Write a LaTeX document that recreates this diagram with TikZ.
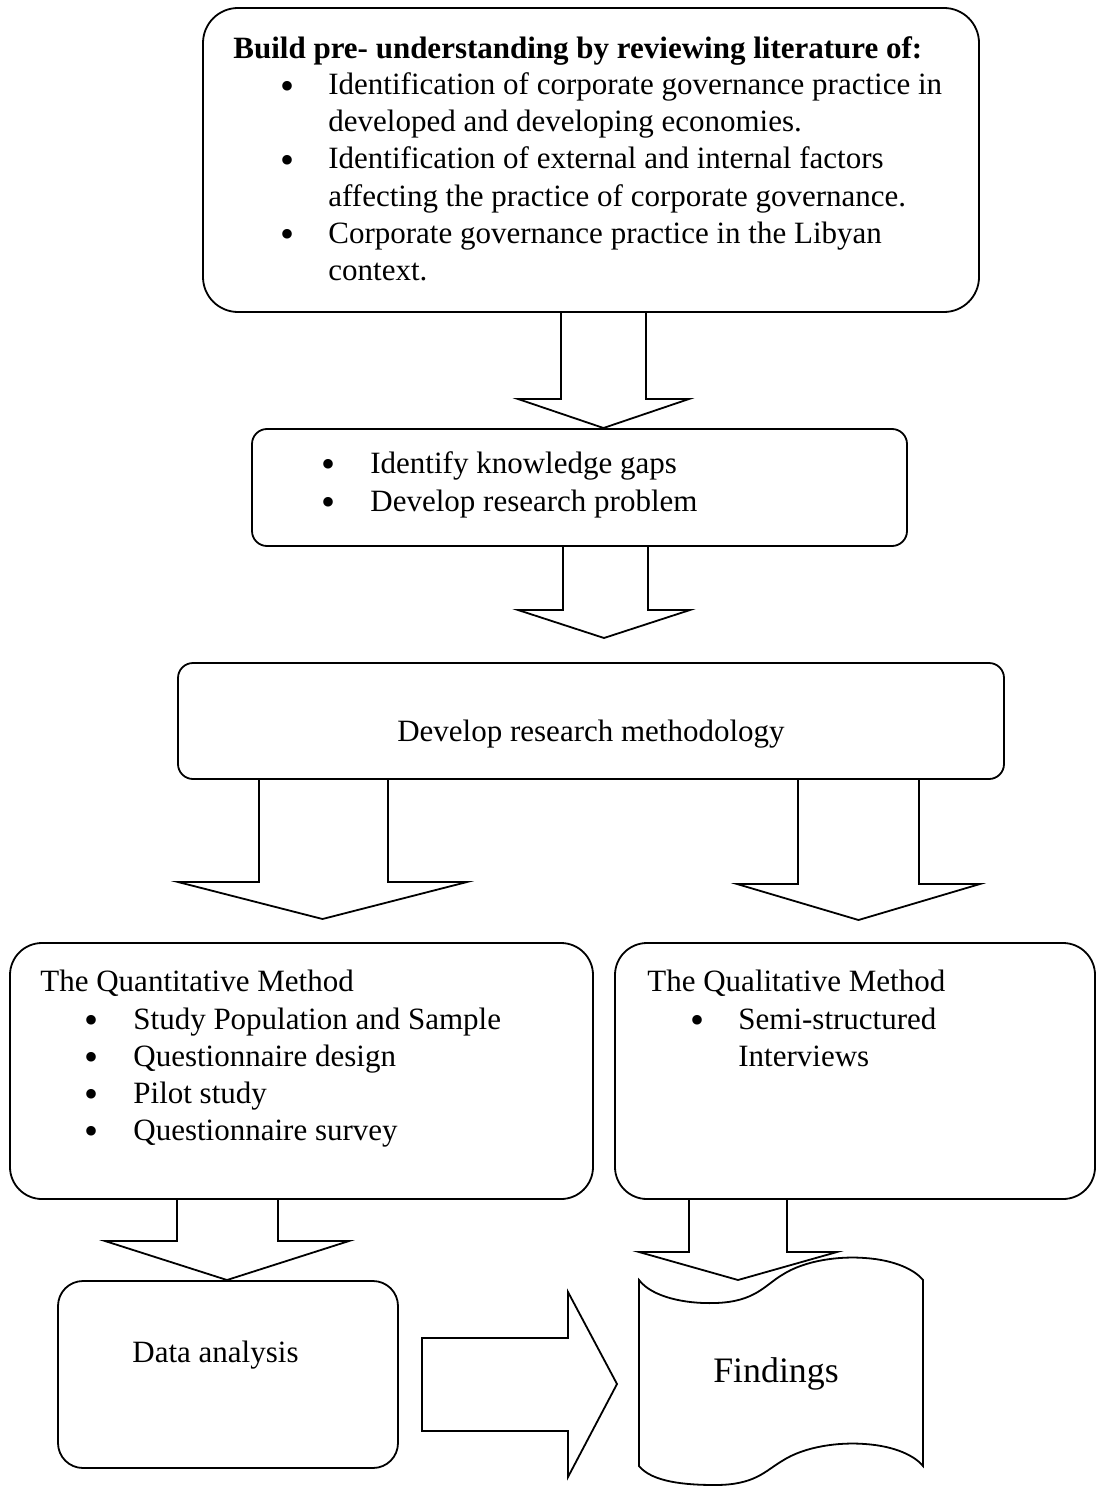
\documentclass[tikz,border=0pt]{standalone}
\usepackage{fontspec}
\setmainfont{Liberation Serif}
\newcommand\blockdown[7]{% #1 source node, #2 shaft left, #3 shaft right, #4 shoulder y, #5 head left, #6 head right, #7 tip y
  \draw[barrow] (#2,0 |- #1.south) -- (#2,#4) -- (#5,#4) -- ({(#5+#6)/2},#7) -- (#6,#4) -- (#3,#4) -- (#3,0 |- #1.south);}
\begin{document}
\begin{tikzpicture}[x=0.5pt,y=-0.5pt,
  box/.style={draw, line width=0.9pt, inner sep=0pt, outer sep=0pt},
  txt/.style={anchor=base west, inner sep=0pt, font=\fontsize{15.5pt}{18.5pt}\selectfont},
  ctxt/.style={anchor=base, inner sep=0pt, font=\fontsize{15.5pt}{18.5pt}\selectfont},
  bul/.style={anchor=base, inner sep=0pt, yshift=-2.3pt, font=\fontsize{20pt}{20pt}\selectfont},
  barrow/.style={draw, line width=0.9pt, line join=miter}]
\useasboundingbox (0,0) rectangle (1097,1487);

% boxes
\node[box, rounded corners=17.5pt, minimum width=388pt, minimum height=152pt] (b1) at (591,160) {};
\node[box, rounded corners=7.5pt, minimum width=327.5pt, minimum height=58.5pt] (b2) at (579.5,487.5) {};
\node[box, rounded corners=7.5pt, minimum width=413pt, minimum height=58pt] (b3) at (591,721) {};
\node[box, rounded corners=16pt, minimum width=291.5pt, minimum height=128pt] (b4) at (301.5,1071) {};
\node[box, rounded corners=16pt, minimum width=240pt, minimum height=128pt] (b5) at (855,1071) {};
\node[box, rounded corners=12.5pt, minimum width=170pt, minimum height=93.5pt] (b6) at (228,1374.5) {};

% findings (punched tape)
\draw[barrow] (639,1280) .. controls (652,1297) and (685,1304) .. (715,1303)
  .. controls (755,1302) and (765,1285) .. (782,1275)
  .. controls (805,1260) and (840,1256) .. (865,1258)
  .. controls (895,1260) and (915,1270) .. (923,1280)
  -- (923,1466)
  .. controls (915,1456) and (895,1446) .. (865,1444)
  .. controls (840,1442) and (805,1446) .. (782,1461)
  .. controls (765,1471) and (755,1485) .. (715,1485)
  .. controls (685,1485) and (652,1482) .. (639,1466) -- cycle;
\node[anchor=base, inner sep=0pt, font=\fontsize{17.9pt}{20pt}\selectfont] (fnd) at (776,1382) {Findings};

% block arrows
\blockdown{b1}{561}{646}{399}{518}{689}{428}
\blockdown{b2}{563}{648}{610}{518}{690}{638}
\blockdown{b3}{259}{388}{882}{178}{467}{919}
\blockdown{b3}{798}{919}{884}{737}{980}{920}
\blockdown{b4}{177}{278}{1241}{105}{349}{1280}
\blockdown{b5}{689}{787}{1252}{639}{837}{1280}
\draw[barrow] (422,1338) -- (568,1338) -- (568,1292) -- (617,1384) -- (568,1477) -- (568,1431) -- (422,1431) -- cycle;

% box 1 text
\node[txt] (t1) at (233,59) {\textbf{Build pre- understanding by reviewing literature of:}};
\node[bul] (u1a) at (287,95) {•};
\node[txt] (t1a) at (328,95) {Identification of corporate governance practice in};
\node[txt] (t1b) at (328,132) {developed and developing economies.};
\node[bul] (u1b) at (287,169) {•};
\node[txt] (t1c) at (328,169) {Identification of external and internal factors};
\node[txt] (t1d) at (328,206) {affecting the practice of corporate governance.};
\node[bul] (u1c) at (287,243) {•};
\node[txt] (t1e) at (328,243) {Corporate governance practice in the Libyan};
\node[txt] (t1f) at (328,280) {context.};

% box 2 text
\node[bul] (u2a) at (328,473) {•};
\node[txt] (t2a) at (370,473) {Identify knowledge gaps};
\node[bul] (u2b) at (328,511) {•};
\node[txt] (t2b) at (370,511) {Develop research problem};

% box 3 text
\node[ctxt] (t3) at (591,741) {Develop research methodology};

% box 4 text
\node[txt] (t4) at (40,991) {The Quantitative Method};
\node[bul] (u4a) at (92,1029) {•};
\node[txt] (t4a) at (133,1029) {Study Population and Sample};
\node[bul] (u4b) at (92,1066) {•};
\node[txt] (t4b) at (133,1066) {Questionnaire design};
\node[bul] (u4c) at (92,1103) {•};
\node[txt] (t4c) at (133,1103) {Pilot study};
\node[bul] (u4d) at (92,1140) {•};
\node[txt] (t4d) at (133,1140) {Questionnaire survey};

% box 5 text
\node[txt] (t5) at (647,991) {The Qualitative Method};
\node[bul] (u5a) at (697,1029) {•};
\node[txt] (t5a) at (738,1029) {Semi-structured};
\node[txt] (t5b) at (738,1066) {Interviews};

% data analysis
\node[txt] (t6) at (132,1362) {Data analysis};
\end{tikzpicture}
\end{document}
